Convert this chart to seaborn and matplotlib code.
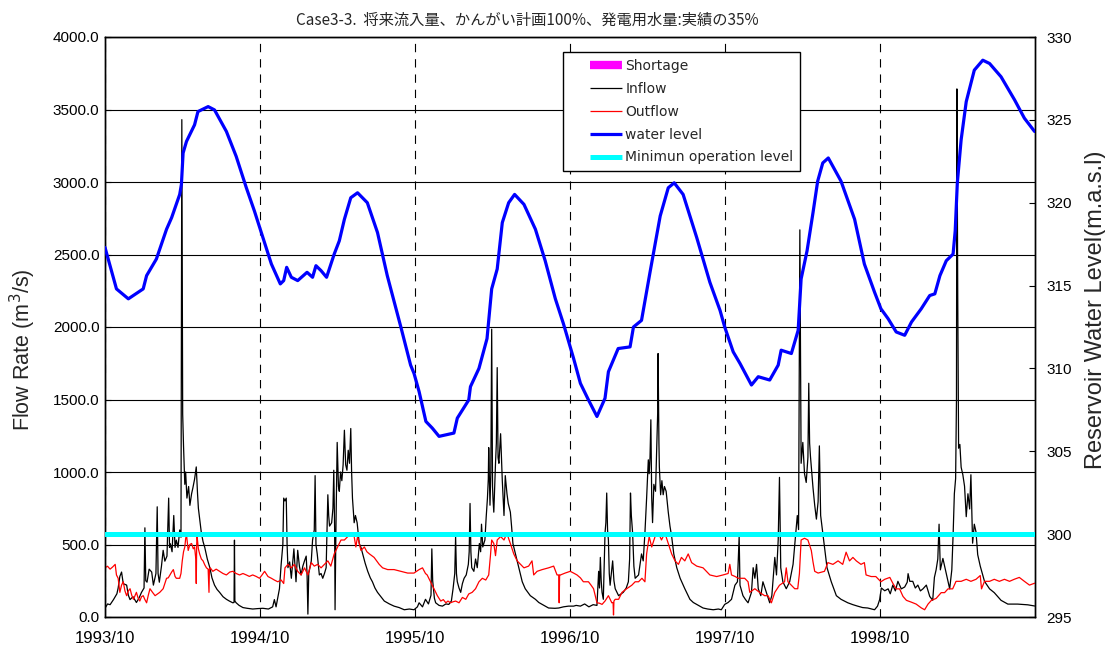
import numpy as np
import pandas as pd
import matplotlib
matplotlib.use("Agg")
import matplotlib.pyplot as plt
from matplotlib.lines import Line2D
import seaborn as sns

# ---------------- data ----------------
START = "1993-10-01"
END = "1999-10-01"

title_text = "Case3-3.  将来流入量、かんがい計画100%、発電用水量:実績の35%"

level_days = [0, 27, 55, 90, 98, 121, 129, 145, 157, 176, 180, 184, 192, 211, 219, 243, 258, 286, 309, 333,
              352, 392, 413, 421, 428, 439, 454, 476, 489, 497, 509, 522, 540, 552, 564, 579, 595, 618, 642, 665,
              697, 720, 728, 740, 756, 771, 787, 822, 830, 857, 861, 881, 900, 911, 924, 936, 951, 965, 987, 1014,
              1037, 1061, 1080, 1104, 1120, 1139, 1159, 1178, 1186, 1209, 1237, 1245, 1264, 1284, 1296, 1308, 1327,
              1341, 1362, 1394, 1425, 1449, 1460, 1480, 1496, 1523, 1539, 1566, 1586, 1593, 1617, 1633, 1640, 1654,
              1668, 1679, 1691, 1704, 1734, 1766, 1789, 1813, 1828, 1845, 1864, 1884, 1900, 1923, 1943, 1955, 1967,
              1982, 1998, 2003, 2008, 2017, 2029, 2048, 2068, 2084, 2111, 2143, 2166, 2190]
level_m = [317.3, 314.8, 314.2, 314.8, 315.6, 316.6, 317.2, 318.4, 319.1, 320.5, 321.1, 323.0, 323.7, 324.7, 325.5,
           325.8, 325.6, 324.3, 322.8, 320.9,
           319.5, 316.3, 315.1, 315.3, 316.1, 315.5, 315.3, 315.8, 315.5, 316.2, 315.9, 315.5, 316.9, 317.7, 319.0,
           320.3, 320.6, 320.0, 318.2, 315.6,
           312.5, 310.2, 309.7, 308.6, 306.8, 306.4, 305.9, 306.1, 307.0, 308.1, 308.9, 310.0, 311.8, 314.8, 316.0,
           318.8, 320.0, 320.5, 319.9, 318.4,
           316.5, 314.2, 312.7, 310.6, 309.1, 308.1, 307.1, 308.2, 309.8, 311.2, 311.3, 312.5, 312.9, 315.8, 317.5,
           319.2, 320.9,
           321.2, 320.5, 317.9, 315.2, 313.5, 312.5, 311.0, 310.3, 309.0, 309.5, 309.3, 310.2, 311.1, 310.9, 312.3,
           315.4, 317.1,
           319.4, 321.3, 322.4, 322.7, 321.3, 319.0, 316.3, 314.6, 313.6, 313.0, 312.2, 312.0, 312.8, 313.6, 314.4,
           314.5, 315.6,
           316.5, 316.9, 318.3, 321.2, 323.8, 326.1, 328.0, 328.6, 328.4, 327.6, 326.2, 325.1, 324.3]

inflow_days = [0, 6, 12, 20, 28, 31, 35, 39, 43, 51, 55, 59, 66, 74, 80, 86, 92, 94, 96, 99, 104, 110, 114, 120, 123,
               125, 128, 133, 137, 141, 146, 150, 152, 154, 158, 162, 165, 168, 172, 176, 179, 181, 183, 185, 188,
               190, 193, 197, 200, 204, 207, 211, 215, 218, 220, 224, 227, 231, 235, 241, 247, 252, 258, 264, 270,
               278, 286, 293, 301, 304, 305, 306, 309, 316, 325, 335, 348, 360,
               372, 385, 395, 399, 403, 411, 415, 419, 421, 424, 427, 429, 431, 435, 439, 445, 450, 454, 458, 462,
               466, 470, 474, 476, 478, 480, 486, 489, 493, 495, 497, 500, 505, 509, 513, 517, 521, 525, 527, 529,
               534, 537, 539, 541, 542, 544, 547, 550, 552, 555, 558, 561, 564, 567, 570, 573, 576, 579, 581, 583,
               587, 590, 594, 599, 603, 607, 613, 619, 625, 630, 636, 642, 650, 658, 670, 681, 693, 705, 717, 728, 736,
               740, 748, 755, 762, 768, 770, 772, 776, 779, 787, 795, 803, 810, 816, 820, 824, 826, 828, 830, 834,
               838, 842, 846, 851, 856, 858, 860, 862, 864, 869, 873, 877, 882, 885, 887, 890, 895, 898, 901, 903,
               904, 907, 909, 911, 913, 914, 916, 920, 922, 924, 926, 928, 932, 936, 940, 943, 947, 950, 955, 958,
               961, 967, 975, 983, 990, 1002, 1014, 1022, 1030, 1045, 1060, 1069, 1080, 1092, 1104,
               1110, 1120, 1130, 1140, 1150, 1159, 1163, 1165, 1167, 1169, 1171, 1174, 1178, 1180, 1182, 1184, 1186,
               1188, 1190, 1193, 1196, 1199, 1202, 1210, 1216, 1221, 1228, 1233, 1236, 1238, 1240, 1243, 1246, 1249,
               1257, 1264, 1268, 1272, 1276, 1280, 1282, 1284, 1286, 1288, 1290, 1293, 1297, 1300, 1302, 1303, 1305,
               1306, 1309, 1312, 1315, 1318, 1322, 1327, 1331, 1335, 1340, 1347, 1355, 1366, 1378, 1386, 1394, 1409,
               1420, 1433, 1445,
               1452, 1460, 1468, 1476, 1484, 1490, 1494, 1496, 1503, 1509, 1515, 1523, 1527, 1531, 1535, 1539, 1545,
               1550, 1558, 1566, 1571, 1578, 1582, 1586, 1589, 1592, 1597, 1605, 1613, 1621, 1626, 1631, 1634, 1637,
               1640, 1644, 1648, 1652, 1656, 1658, 1660, 1662, 1668, 1672, 1676, 1680, 1683, 1686, 1691, 1695, 1701,
               1711, 1723, 1734, 1750, 1762, 1773, 1785, 1797, 1806, 1813,
               1820, 1825, 1829, 1837, 1845, 1850, 1856, 1862, 1868, 1876, 1884, 1890, 1892, 1896, 1903, 1909, 1915,
               1921, 1927, 1935, 1943, 1950, 1954, 1958, 1962, 1965, 1968, 1974, 1978, 1982, 1990, 1995, 1998, 2001,
               2004, 2006, 2007, 2009, 2011, 2014, 2017, 2021, 2025, 2029, 2033, 2037, 2040, 2044, 2048, 2052, 2056,
               2062, 2072, 2084, 2095, 2111, 2127, 2150, 2174, 2190]
inflow = [60, 90, 85, 120, 160, 200, 280, 310, 230, 220, 150, 120, 140, 100, 130, 170, 200, 615, 250, 240, 330, 310,
          220, 300, 760, 300, 240, 350, 460, 385, 420, 820, 480, 505, 450, 700, 480, 530, 480, 600, 550, 3430, 1400,
          1180, 915, 1000, 820, 900, 770, 850, 890, 950, 1035, 850, 750, 650, 580, 520, 480, 400, 340, 270, 220, 190,
          170, 140, 122, 110, 98, 100, 530, 110, 98, 80, 65, 60, 55, 58,
          60, 55, 70, 120, 70, 195, 363, 500, 820, 800, 820, 500, 340, 380, 267, 470, 243, 460, 350, 290, 350, 387,
          420, 300, 20, 300, 387, 530, 600, 975, 500, 435, 290, 300, 267, 300, 340, 843, 700, 627, 650, 750, 1012,
          600, 50, 600, 1204, 900, 867, 1000, 940, 1050, 1288, 1050, 1012, 1150, 1060, 1300, 1000, 820, 650, 700,
          650, 507, 480, 435, 370, 315, 270, 243, 200, 170, 140, 110, 90, 75, 65, 50, 55, 50, 70,
          98, 70, 122, 90, 150, 470, 250, 130, 98, 80, 75, 90, 87, 110, 195, 300, 555, 300, 243, 200, 170, 230, 267,
          290, 363, 450, 783, 450, 340, 315, 400, 340, 507, 450, 640, 483, 531, 687, 820, 950, 1168, 771, 1000, 1985,
          900, 820, 723, 1060, 1200, 1720, 1100, 1060, 1264, 940, 700, 975, 850, 783, 723, 620, 507, 435, 340, 243,
          195, 147, 122, 100, 87, 62, 60, 62, 70, 75, 75,
          80, 75, 90, 70, 85, 80, 315, 200, 411, 250, 170, 122, 580, 650, 855, 600, 531, 300, 219, 300, 387, 250, 195,
          147, 160, 170, 200, 243, 400, 855, 700, 580, 350, 267, 290, 435, 387, 580, 820, 1084, 988, 1100, 1360, 820,
          651, 915, 867, 1180, 1400, 1817, 1200, 1036, 843, 940, 843, 900, 867, 723, 627, 555, 435, 340, 267, 195,
          122, 100, 87, 62, 55, 50, 55,
          50, 87, 100, 122, 219, 243, 555, 219, 147, 120, 98, 170, 340, 267, 363, 195, 147, 243, 170, 98, 147, 411,
          290, 531, 963, 340, 243, 195, 243, 363, 531, 700, 603, 2670, 1060, 1204, 988, 928, 1100, 1612, 1200, 1108,
          891, 771, 675, 795, 1180, 700, 580, 483, 340, 243, 147, 122, 98, 85, 75, 65, 62, 55, 50,
          75, 120, 200, 181, 194, 160, 220, 180, 246, 194, 207, 240, 299, 246, 246, 200, 220, 180, 194, 220, 142, 115,
          273, 325, 400, 640, 325, 404, 351, 299, 194, 325, 561, 850, 955, 1500, 3642, 2213, 1164, 1190, 1033, 981,
          902, 692, 850, 745, 981, 509, 640, 587, 430, 351, 246, 194, 168, 115, 89, 89, 84, 76]

outflow_days = [0, 6, 12, 18, 24, 27, 31, 35, 39, 43, 47, 51, 55, 59, 63, 67, 74, 78, 82, 86, 90, 94, 98, 102, 106,
                112, 118, 124, 129, 137, 141, 145, 149, 153, 157, 161, 165, 168, 176, 179, 182, 185, 188, 190, 192,
                196, 200, 204, 208, 211, 214, 215, 216, 217, 220, 223, 227, 231, 235, 239, 243, 245, 246, 248, 254,
                262, 270, 278, 286, 294, 301, 309, 317, 325, 333, 340, 348, 356, 364, 370, 376,
                384, 392, 399, 407, 415, 421, 424, 431, 439, 446, 454, 462, 470, 478, 486, 493, 501, 509, 517, 525,
                532, 540, 548, 556, 564, 572, 580, 587, 591, 595, 603, 611, 617, 623, 634, 646, 654, 666, 681, 697,
                713, 728, 740,
                748, 755, 759, 767, 775, 783, 791, 797, 803, 808, 814, 820, 826, 834, 842, 850, 857, 865, 873, 881,
                889, 897, 904, 908, 911, 916, 920, 924, 932, 940, 947, 951, 955, 963, 971, 979, 987, 998, 1006, 1010,
                1018, 1030, 1045, 1057, 1065, 1069, 1070, 1071, 1073, 1084, 1096, 1104,
                1112, 1120, 1127, 1139, 1145, 1151, 1159, 1165, 1171, 1178, 1186, 1194, 1197, 1198, 1199, 1202, 1210,
                1218, 1229, 1241, 1249, 1257, 1265, 1272, 1276, 1282, 1288, 1296, 1304, 1311, 1319, 1327, 1335, 1343,
                1351, 1358, 1366, 1374, 1382, 1394, 1409, 1425, 1441, 1456,
                1468, 1472, 1476, 1484, 1492, 1507, 1515, 1519, 1531, 1542, 1554, 1562, 1570, 1578, 1589, 1601, 1605,
                1609, 1617, 1625, 1632, 1636, 1640, 1648, 1656, 1664, 1668, 1672, 1680, 1695, 1703, 1715, 1727, 1738,
                1746, 1754, 1762, 1770, 1781, 1789, 1793, 1805, 1816, 1828,
                1837, 1849, 1856, 1864, 1872, 1880, 1888, 1900, 1911, 1923, 1931, 1939, 1947, 1958, 1970, 1978, 1986,
                1997, 2005, 2017, 2029, 2040, 2052, 2062, 2065, 2072, 2084, 2095, 2107, 2119, 2131, 2142, 2154, 2166,
                2178, 2190]
outflow = [340, 350, 330, 345, 363, 290, 267, 170, 220, 243, 180, 147, 180, 195, 150, 122, 170, 130, 110, 140, 147,
           120, 98, 150, 195, 170, 147, 160, 170, 195, 230, 267, 270, 290, 310, 327, 280, 267, 267, 300, 387, 450,
           483, 540, 567, 459, 500, 507, 470, 483, 400, 231, 500, 555, 470, 435, 400, 387, 360, 339, 330, 170, 330,
           339, 315, 330, 315, 300, 290, 310, 315, 300, 290, 300, 290, 280, 290, 280, 267, 290, 315,
           279, 267, 255, 243, 255, 231, 339, 363, 339, 363, 315, 290, 339, 290, 375, 351, 363, 339, 363, 387, 351,
           435, 483, 531, 531, 555, 579, 555, 483, 555, 459, 483, 450, 435, 411, 363, 339, 327, 327, 315, 303, 303,
           327,
           339, 300, 290, 243, 195, 147, 110, 120, 98, 110, 98, 105, 110, 98, 135, 122, 159, 170, 195, 243, 267, 255,
           290, 420, 531, 507, 423, 531, 555, 531, 579, 540, 507, 435, 387, 363, 339, 351, 387, 290, 315, 327, 339,
           351, 290, 290, 98, 290, 290, 303, 315, 303,
           290, 270, 243, 243, 220, 195, 98, 95, 87, 110, 147, 98, 100, 14, 110, 122, 122, 170, 195, 219, 243, 243,
           267, 243, 435, 555, 483, 555, 579, 531, 579, 507, 435, 387, 363, 411, 387, 435, 375, 351, 339, 290, 279,
           290,
           300, 363, 290, 280, 267, 267, 243, 170, 195, 170, 147, 147, 98, 170, 219, 243, 339, 243, 219, 195, 195,
           300, 531, 543, 531, 459, 380, 315, 303, 315, 375, 363, 387, 363, 447, 387, 411, 387, 363, 375, 290, 279,
           279, 243,
           260, 273, 233, 194, 194, 142, 115, 102, 89, 63, 50, 89, 115, 128, 168, 168, 194, 194, 246, 246, 260, 246,
           260, 286, 194, 246, 246, 260, 246, 260, 246, 260, 273, 246, 220, 233]

min_level_days = [0, 2191]
min_level = [300.0, 300.0]

shortage_days = [0, 2191]
shortage = [0.0, 0.0]

x_tick_dates = ["1993-10-01", "1994-10-01", "1995-10-01", "1996-10-01", "1997-10-01", "1998-10-01"]
x_tick_labels = ["1993/10", "1994/10", "1995/10", "1996/10", "1997/10", "1998/10"]
flow_ticks = [0, 500, 1000, 1500, 2000, 2500, 3000, 3500, 4000]
level_ticks = [295, 300, 305, 310, 315, 320, 325, 330]

legend_labels = ["Shortage", "Inflow", "Outflow", "water level", "Minimun operation level"]

# ---------------- drawing ----------------
sns.set_style("white")
plt.rcParams['font.family'] = ['Liberation Sans', 'DejaVu Sans']
plt.rcParams['lines.scale_dashes'] = False
CJK = ['Noto Sans CJK JP', 'DejaVu Sans']

base = pd.Timestamp(START)


def to_dates(days):
    return base + pd.to_timedelta(np.asarray(days, dtype=float), unit="D")


fig = plt.figure(figsize=(11.05, 6.46), dpi=100)
ax = fig.add_axes([105 / 1105, 1 - 617 / 646, 930 / 1105, 580 / 646])

df_in = pd.DataFrame({"date": to_dates(inflow_days), "flow": inflow})
df_out = pd.DataFrame({"date": to_dates(outflow_days), "flow": outflow})
df_sh = pd.DataFrame({"date": to_dates(shortage_days), "flow": shortage})

ax.fill_between(df_sh["date"], 0, df_sh["flow"], color="#FF00FF", lw=0)
sns.lineplot(data=df_in, x="date", y="flow", ax=ax, color="black", lw=0.9,
             estimator=None, sort=False, zorder=3)
sns.lineplot(data=df_out, x="date", y="flow", ax=ax, color="#FF0000", lw=0.9,
             estimator=None, sort=False, zorder=4)

ax.set_xlim(pd.Timestamp(START), pd.Timestamp(END))
ax.set_ylim(0, 4000)
ax.set_yticks(flow_ticks)
ax.set_yticklabels([f"{v:.1f}" for v in flow_ticks], fontsize=11)
ax.set_xticks(pd.to_datetime(x_tick_dates))
ax.set_xticklabels(x_tick_labels, fontsize=12)
ax.set_xlabel("")
ax.set_ylabel("Flow Rate (m$^3$/s)", fontsize=15.5)
ax.yaxis.set_label_coords((38 - 105) / 930, (617 - 350) / 580)

ax.yaxis.grid(True, color="black", lw=0.8)
ax.xaxis.grid(True, color="black", lw=0.8, ls=(0, (6, 5)))
ax.set_axisbelow(True)
for s in ax.spines.values():
    s.set_color("black")
    s.set_linewidth(1.0)
ax.tick_params(axis="y", direction="in", length=4, pad=4, colors="black")
ax.tick_params(axis="x", direction="in", length=4, pad=10, colors="black")

ax2 = ax.twinx()
df_lv = pd.DataFrame({"date": to_dates(level_days), "level": level_m})
df_min = pd.DataFrame({"date": to_dates(min_level_days), "level": min_level})
sns.lineplot(data=df_lv, x="date", y="level", ax=ax2, color="#0000FF", lw=2.3,
             estimator=None, sort=False, zorder=5)
sns.lineplot(data=df_min, x="date", y="level", ax=ax2, color="#00FFFF", lw=3.6,
             estimator=None, sort=False, zorder=6)
ax2.set_ylim(295, 330)
ax2.set_yticks(level_ticks)
ax2.set_yticklabels([str(v) for v in level_ticks], fontsize=11)
ax2.set_xlim(pd.Timestamp(START), pd.Timestamp(END))
ax2.set_xlabel("")
ax2.set_ylabel("Reservoir Water Level(m.a.s.l)", fontsize=17)
ax2.yaxis.set_label_coords((1085 - 105) / 930, (617 - 310) / 580)
ax2.tick_params(axis="y", direction="in", length=4, pad=8, colors="black")
ax2.grid(False)
for s in ax2.spines.values():
    s.set_color("black")
    s.set_linewidth(1.0)

fig.text(527 / 1105, 1 - 20 / 646, title_text, fontsize=11, family=CJK,
         ha="center", va="center")

# legend: handles drawn with a leading gap, like the reference
gap_pt, len_pt, pad_pt = 14.4, 23.0, 100.0
dash = (len_pt + pad_pt, (len_pt, gap_pt + pad_pt))
handles = [
    Line2D([], [], color="#FF00FF", lw=6, ls=dash),
    Line2D([], [], color="black", lw=0.9, ls=dash),
    Line2D([], [], color="#FF0000", lw=0.9, ls=dash),
    Line2D([], [], color="#0000FF", lw=2.3, ls=dash),
    Line2D([], [], color="#00FFFF", lw=3.6, ls=dash),
]
for h in handles:
    h.set_dash_capstyle("butt")
leg = ax2.legend(handles, legend_labels, loc="upper left",
                 bbox_to_anchor=((563 - 105) / 930, (617 - 52) / 580),
                 frameon=True, fancybox=False, edgecolor="black", framealpha=1,
                 prop={"family": "DejaVu Sans", "size": 10}, handlelength=3.74,
                 handletextpad=0.25, labelspacing=0.64, borderpad=0.5,
                 borderaxespad=0)
leg.get_frame().set_linewidth(1.0)

fig.savefig("out.png", dpi=100)
